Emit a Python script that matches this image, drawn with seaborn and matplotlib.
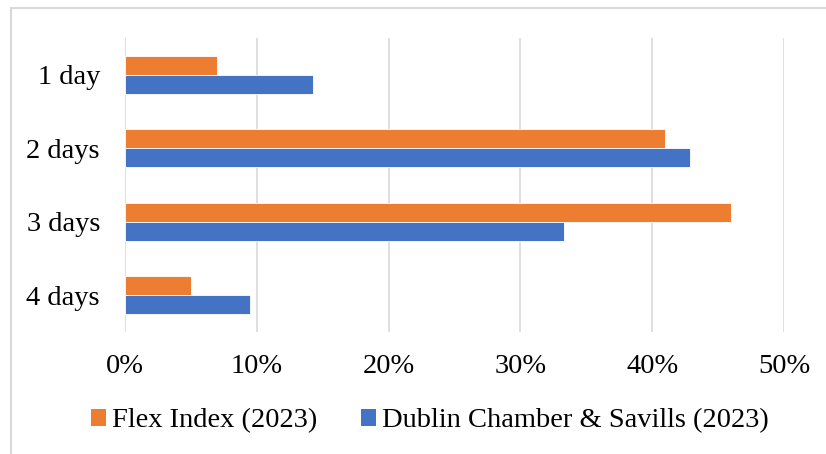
import matplotlib
matplotlib.use("Agg")
import matplotlib.pyplot as plt
import seaborn as sns
import pandas as pd
from matplotlib.patches import Rectangle, Patch
from matplotlib.ticker import PercentFormatter

categories = ["1 day", "2 days", "3 days", "4 days"]
series_names = ["Flex Index (2023)", "Dublin Chamber & Savills (2023)"]
flex_values = [0.07, 0.41, 0.46, 0.05]
dublin_values = [0.143, 0.429, 0.333, 0.095]
x_ticks = [0, 0.1, 0.2, 0.3, 0.4, 0.5]
colors = ["#ED7D31", "#4472C4"]

df = pd.DataFrame({
    "category": categories * 2,
    "series": [series_names[0]] * 4 + [series_names[1]] * 4,
    "value": flex_values + dublin_values,
})

sns.set_theme(style="white")
plt.rcParams['font.family'] = ['Liberation Serif', 'DejaVu Serif']
plt.rcParams['text.color'] = 'black'

fig = plt.figure(figsize=(8.26, 4.54), dpi=100)
ax = fig.add_axes([125/826, 1-332/454, (784-125)/826, (332-38)/454])

sns.barplot(data=df, y="category", x="value", hue="series", order=categories,
            hue_order=series_names, palette=colors, saturation=1, orient="h", width=0.52,
            gap=0, ax=ax, edgecolor="white", linewidth=0.6, legend=False)

ax.set_xlim(0, 0.5)
ax.set_ylim(3.5, -0.5)
ax.set_xticks(x_ticks)
ax.xaxis.set_major_formatter(PercentFormatter(1.0, decimals=0))
ax.grid(axis="x", color="#d9d9d9", linewidth=1.2)
ax.set_axisbelow(True)
for s in ax.spines.values():
    s.set_visible(False)
ax.set_xlabel("")
ax.set_ylabel("")
ax.tick_params(axis="x", labelsize=20.5, pad=16, length=0, labelcolor="black")
ax.tick_params(axis="y", labelsize=20.5, pad=18, length=0, labelcolor="black")

handles = [Patch(facecolor=c, edgecolor="none") for c in colors]
fig.legend(handles, series_names, loc="center", bbox_to_anchor=(430/826, 1-421/454),
           ncol=2, frameon=False, fontsize=20.5, handlelength=0.5, handleheight=0.5,
           handletextpad=0.22, columnspacing=1.55, labelcolor="black")

fig.patches.append(Rectangle((11/826, -0.1), 1.2, 1-8/454+0.1, transform=fig.transFigure,
                             fill=False, edgecolor="#d9d9d9", linewidth=1.5))

fig.savefig("out.png", dpi=100)
